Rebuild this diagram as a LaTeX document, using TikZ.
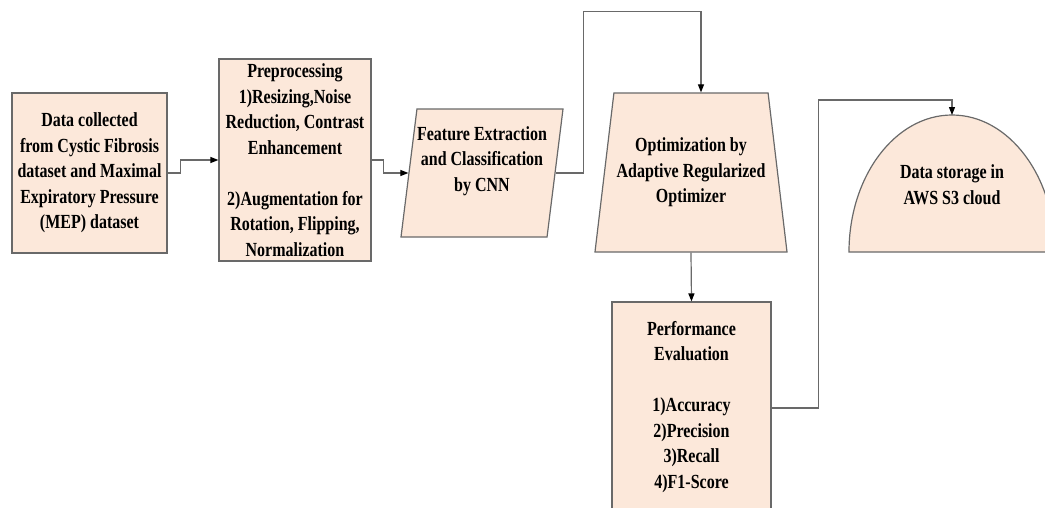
\documentclass[tikz,border=0pt]{standalone}
\usepackage{fontspec}
\setmainfont{Liberation Serif}[FakeStretch=0.8]
\usepackage{xcolor}
\usetikzlibrary{shapes.geometric, arrows.meta, positioning}

\definecolor{peach}{RGB}{252,232,218}
\definecolor{edge}{RGB}{105,105,105}

\begin{document}
\begin{tikzpicture}[x=1pt, y=-1pt, thick]
    \tikzstyle{block} = [rectangle, draw=edge, fill=peach, line width=1.2pt, inner sep=0pt]
    \tikzstyle{slanted} = [trapezium, trapezium stretches=true, draw=edge, fill=peach, line width=1.2pt, inner sep=2pt]
    \tikzstyle{txt} = [align=center, font=\fontsize{20}{25.5}\selectfont\bfseries, inner sep=0pt]
    \tikzstyle{line} = [draw=edge, line width=1.2pt, -{Triangle[length=8pt, width=6pt, fill=black, color=black]}]

    \useasboundingbox (0,0) rectangle (1045,507);

    \node [block, minimum width=155pt, minimum height=160pt] (data) at (89.5,173) {};
    \node [txt] (datatext) at (data) {Data collected\\from Cystic Fibrosis\\dataset and Maximal\\Expiratory Pressure\\(MEP) dataset};

    \node [block, minimum width=152pt, minimum height=202pt] (prep) at (295,160) {};
    \node [txt] (preptext) at (prep) {Preprocessing\\1)Resizing,Noise\\Reduction, Contrast\\Enhancement\\[25.5pt]2)Augmentation for\\Rotation, Flipping,\\Normalization};

    \node [slanted, trapezium left angle=83, trapezium right angle=97, minimum width=162pt, minimum height=128pt] (feat) at (482,173) {};
    \node [txt] (feattext) at (482,161) {Feature Extraction\\and Classification\\by CNN};

    \node [slanted, trapezium left angle=83, trapezium right angle=83, minimum width=192pt, minimum height=159pt] (opt) at (691,172.5) {};
    \node [txt] (opttext) at (opt) {Optimization by\\Adaptive Regularized\\Optimizer};

    \node [block, minimum width=159pt, minimum height=212pt] (perf) at (691.5,408) {};
    \node [txt] (perftext) at (691.5,407) {Performance\\Evaluation\\[25.5pt]1)Accuracy\\2)Precision\\3)Recall\\4)F1-Score};

    % storage drawn as half ellipse
    \filldraw [draw=edge, fill=peach, line width=1.2pt] (849,252) arc [start angle=180, end angle=0, x radius=103, y radius=-137] -- cycle;
    \coordinate (store) at (952,115);
    \node [txt] (storetext) at (952,184.5) {Data storage in\\AWS S3 cloud};

    \path [line] (data.east) -- ++(13,0) |- (prep.west);
    \path [line] (prep.east) -- ++(12,0) |- (feat.west);
    \path [line] (feat.east) -- ++(28,0) |- ([xshift=10pt, yshift=81pt]opt.north) -- ([xshift=10pt]opt.north);
    \path [line] (opt.south) -- (perf.north);
    \path [line] (perf.east) -- ++(47,0) |- ([yshift=15pt]store) -- (store);
\end{tikzpicture}
\end{document}
